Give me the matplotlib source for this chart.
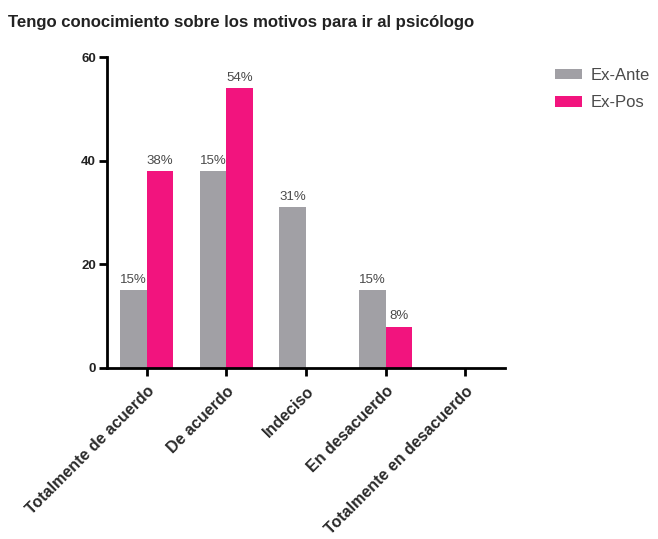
import matplotlib.pyplot as plt
import numpy as np

plt.rcParams['font.family'] = ['Liberation Sans', 'DejaVu Sans']

categorias = ['Totalmente de acuerdo', 'De acuerdo', 'Indeciso',
              'En desacuerdo', 'Totalmente en desacuerdo']
ex_ante = [15, 38, 31, 15, 0]
ex_pos = [38, 54, 0, 8, 0]
etiquetas_ante = ['15%', '15%', '31%', '15%', '']
etiquetas_pos = ['38%', '54%', '', '8%', '']
ticks_y = [0, 20, 40, 60]

color_ante = '#a1a0a5'
color_pos = '#f2147e'

fig = plt.figure(figsize=(6.58, 5.39), dpi=100)
ax = fig.add_axes([107 / 658, 1 - 368 / 539, 398 / 658, 311 / 539])

x = np.arange(len(categorias))
ancho = 0.333
barras_ante = ax.bar(x - ancho / 2, ex_ante, ancho, color=color_ante, label='Ex-Ante')
barras_pos = ax.bar(x + ancho / 2, ex_pos, ancho, color=color_pos, label='Ex-Pos')

for barras, etiquetas in ((barras_ante, etiquetas_ante), (barras_pos, etiquetas_pos)):
    for b, txt in zip(barras, etiquetas):
        if txt:
            ax.annotate(txt, (b.get_x() + b.get_width() / 2, b.get_height()),
                        xytext=(0, 3), textcoords='offset points',
                        ha='center', va='bottom', fontsize=9.5, color='#4a4a4a')

ax.set_xlim(-0.5, 4.5)
ax.set_ylim(0, 60)
ax.set_yticks(ticks_y)
ax.set_xticks(x)
ax.set_xticklabels(categorias, rotation=45, ha='right', rotation_mode='anchor',
                   fontsize=11.5, fontweight='bold', color='#2a2a2a')
for lbl in ax.get_yticklabels():
    lbl.set_fontweight('bold')
    lbl.set_fontsize(9.5)
    lbl.set_color('#222222')

for lado in ('top', 'right'):
    ax.spines[lado].set_visible(False)
for lado in ('left', 'bottom'):
    ax.spines[lado].set_linewidth(2)
ax.tick_params(axis='both', width=2, length=6, direction='out', pad=2)
ax.tick_params(axis='x', pad=5)

ax.legend(loc='upper left', bbox_to_anchor=(540 / 658, 1 - 53 / 539),
          bbox_transform=fig.transFigure, frameon=False, fontsize=12,
          handlelength=1.6, handleheight=0.6, labelspacing=0.75,
          handletextpad=0.55, labelcolor='#4a4a4a')

fig.text(8 / 658, 1 - 22 / 539, 'Tengo conocimiento sobre los motivos para ir al psicólogo',
         fontsize=12.1, fontweight='bold', va='center', ha='left', color='#222222')

fig.savefig('out.png', dpi=100)
